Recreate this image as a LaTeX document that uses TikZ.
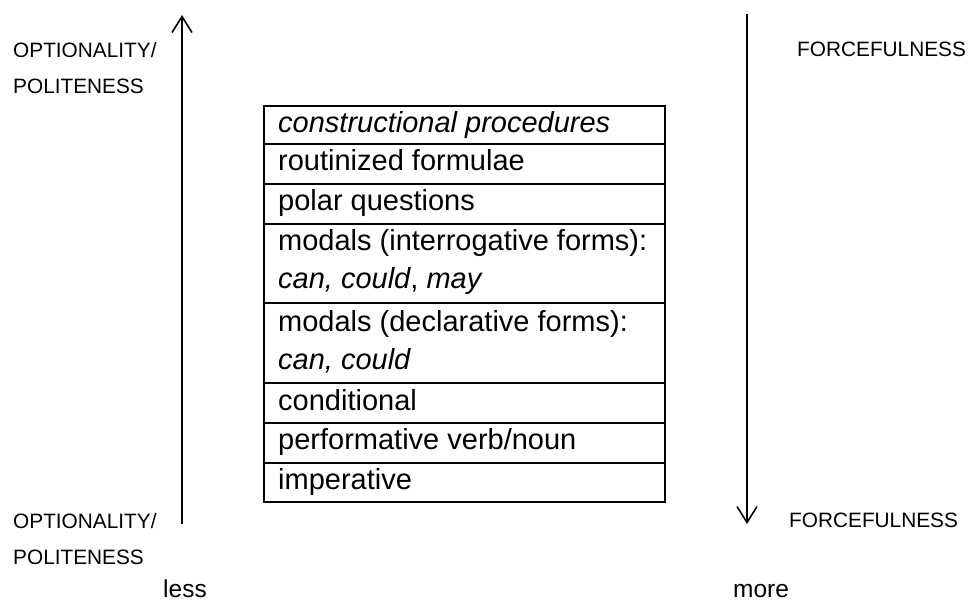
\documentclass[tikz,border=0pt]{standalone}
\usepackage{fontspec}
\setmainfont{Liberation Sans}
\usetikzlibrary{arrows.meta}
\begin{document}
\begin{tikzpicture}[x=1pt,y=-1pt,
  lbl/.style={anchor=base west,inner sep=0pt,font=\fontsize{20.8}{25}\selectfont},
  endlbl/.style={anchor=base west,inner sep=0pt,font=\fontsize{24.5}{28}\selectfont},
  cell/.style={anchor=base west,inner sep=0pt,font=\fontsize{29}{38}\selectfont},
  rowbox/.style={draw=black,line width=1.8pt},
  axis/.style={draw=black,line width=1.8pt,-{Straight Barb[length=16pt,width=20pt,line width=1.6pt]}}]
\useasboundingbox (0,0) rectangle (971,601);
% arrows
\coordinate (upbot) at (182,524);
\coordinate (uptop) at (182,15);
\coordinate (dntop) at (747,14);
\coordinate (dnbot) at (747,524);
\draw[axis] (upbot) -- (uptop);
\draw[axis] (dntop) -- (dnbot);
% labels
\node[lbl] (opt1) at (13,58) {OPTIONALITY/};
\node[lbl] (pol1) at (13,94) {POLITENESS};
\node[lbl] (opt2) at (13,528) {OPTIONALITY/};
\node[lbl] (pol2) at (13,564) {POLITENESS};
\node[lbl] (frc1) at (797,57) {FORCEFULNESS};
\node[lbl] (frc2) at (789,527) {FORCEFULNESS};
\node[endlbl] (less) at (163,597) {less};
\node[endlbl] (more) at (733,597) {more};
% table rows
\foreach \a/\b in {106/144,144/184,184/224,224/303,303/383,383/423,423/463,463/502}
  \draw[rowbox] (264,\a) rectangle (665,\b);
\node[cell] (r1) at (278,133) {\itshape constructional procedures};
\node[cell] (r2) at (278,171) {routinized formulae};
\node[cell] (r3) at (278,211) {polar questions};
\node[cell] (r4a) at (278,251) {modals (interrogative forms):};
\node[cell] (r4b) at (278,289) {\itshape can, could\upshape, \itshape may};
\node[cell] (r5a) at (278,331) {modals (declarative forms):};
\node[cell] (r5b) at (278,369) {\itshape can, could};
\node[cell] (r6) at (278,410) {conditional};
\node[cell] (r7) at (278,449) {performative verb/noun};
\node[cell] (r8) at (278,489) {imperative};
\end{tikzpicture}
\end{document}
